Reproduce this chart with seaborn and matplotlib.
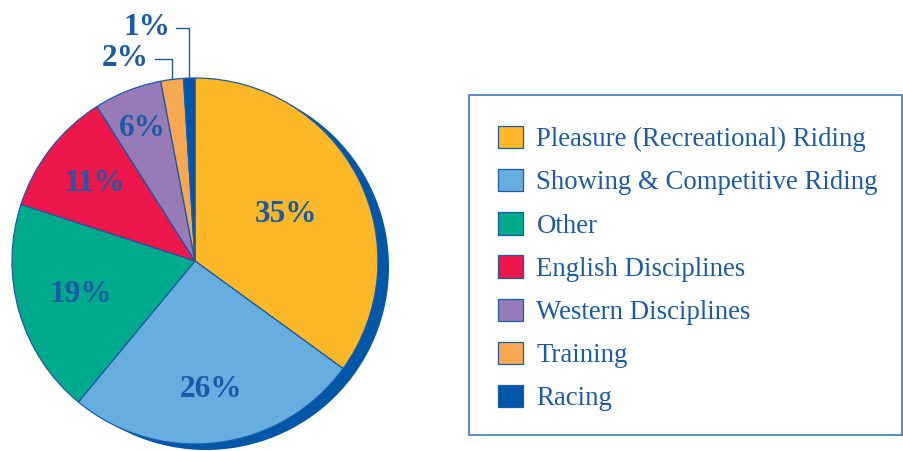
import numpy as np
import matplotlib
matplotlib.use("Agg")
import matplotlib.pyplot as plt
import seaborn as sns
from matplotlib.patches import Rectangle

# data
categories = ["Pleasure (Recreational) Riding", "Showing & Competitive Riding", "Other",
              "English Disciplines", "Western Disciplines", "Training", "Racing"]
shares = [35, 26, 19, 11, 6, 2, 1]
slice_colors = ["#FDB827", "#67AEE0", "#00AA8D", "#ED174C", "#967BB6", "#F9A852", "#0057A8"]

# label radius (fraction of pie radius) for the inside labels
label_radius = [0.56, 0.71, 0.65, 0.69, 0.78]

TEXT_BLUE = "#1B5AA6"
EDGE_BLUE = "#1B5AA6"
SHADOW = "#0057A8"
PX = 183.0  # pie radius in pixels

sns.set_theme(style="white")
plt.rcParams["font.family"] = ["Liberation Serif", "DejaVu Serif"]

fig = plt.figure(figsize=(9.04, 4.51), dpi=100)
ax = fig.add_axes([0, 0, 451 / 904, 1])

# drop shadow behind the pie
ax.pie([1], colors=[SHADOW], radius=1, center=(11 / PX, -6 / PX),
       wedgeprops=dict(linewidth=0))

wedges, _ = ax.pie(shares, colors=sns.color_palette(slice_colors), startangle=90,
                   counterclock=False, radius=1,
                   wedgeprops=dict(edgecolor=EDGE_BLUE, linewidth=0.9))

ax.set_xlim(-195 / PX, 256 / PX)
ax.set_ylim(-190 / PX, 261 / PX)
ax.set_aspect("equal")
ax.axis("off")

for w, val, r in zip(wedges, shares, label_radius):
    mid = np.deg2rad((w.theta1 + w.theta2) / 2)
    ax.text(r * np.cos(mid), r * np.sin(mid), f"{val}%", ha="center", va="center",
            fontsize=22.5, fontweight="bold", color=TEXT_BLUE)

# leader labels for the two thin slices
text_pos = {5: (-0.251, 1.104), 6: (-0.137, 1.275)}
for i, (tx, ty) in text_pos.items():
    w = wedges[i]
    mid = np.deg2rad((w.theta1 + w.theta2) / 2)
    ax.annotate(f"{shares[i]}%", xy=(np.cos(mid), np.sin(mid)), xytext=(tx, ty),
                ha="right", va="center", fontsize=22.5, fontweight="bold", color=TEXT_BLUE,
                arrowprops=dict(arrowstyle="-", color=EDGE_BLUE, lw=1,
                                connectionstyle="angle,angleA=0,angleB=90,rad=0",
                                shrinkA=2, shrinkB=0))

# legend box
fig.patches.append(Rectangle((469 / 904, 1 - 435 / 451), (902 - 469) / 904, 340 / 451,
                             transform=fig.transFigure, fill=False,
                             edgecolor="#3D78B8", linewidth=1.2))

leg = fig.legend(wedges, categories, loc="upper left",
                 bbox_to_anchor=(498 / 904, 1 - 126 / 451), frameon=False,
                 fontsize=19.25, handlelength=0.94, handleheight=0.9,
                 handletextpad=0.5, labelspacing=0.63, borderpad=0, borderaxespad=0)
for t in leg.get_texts():
    t.set_color(TEXT_BLUE)

fig.savefig("out.png", dpi=100)
